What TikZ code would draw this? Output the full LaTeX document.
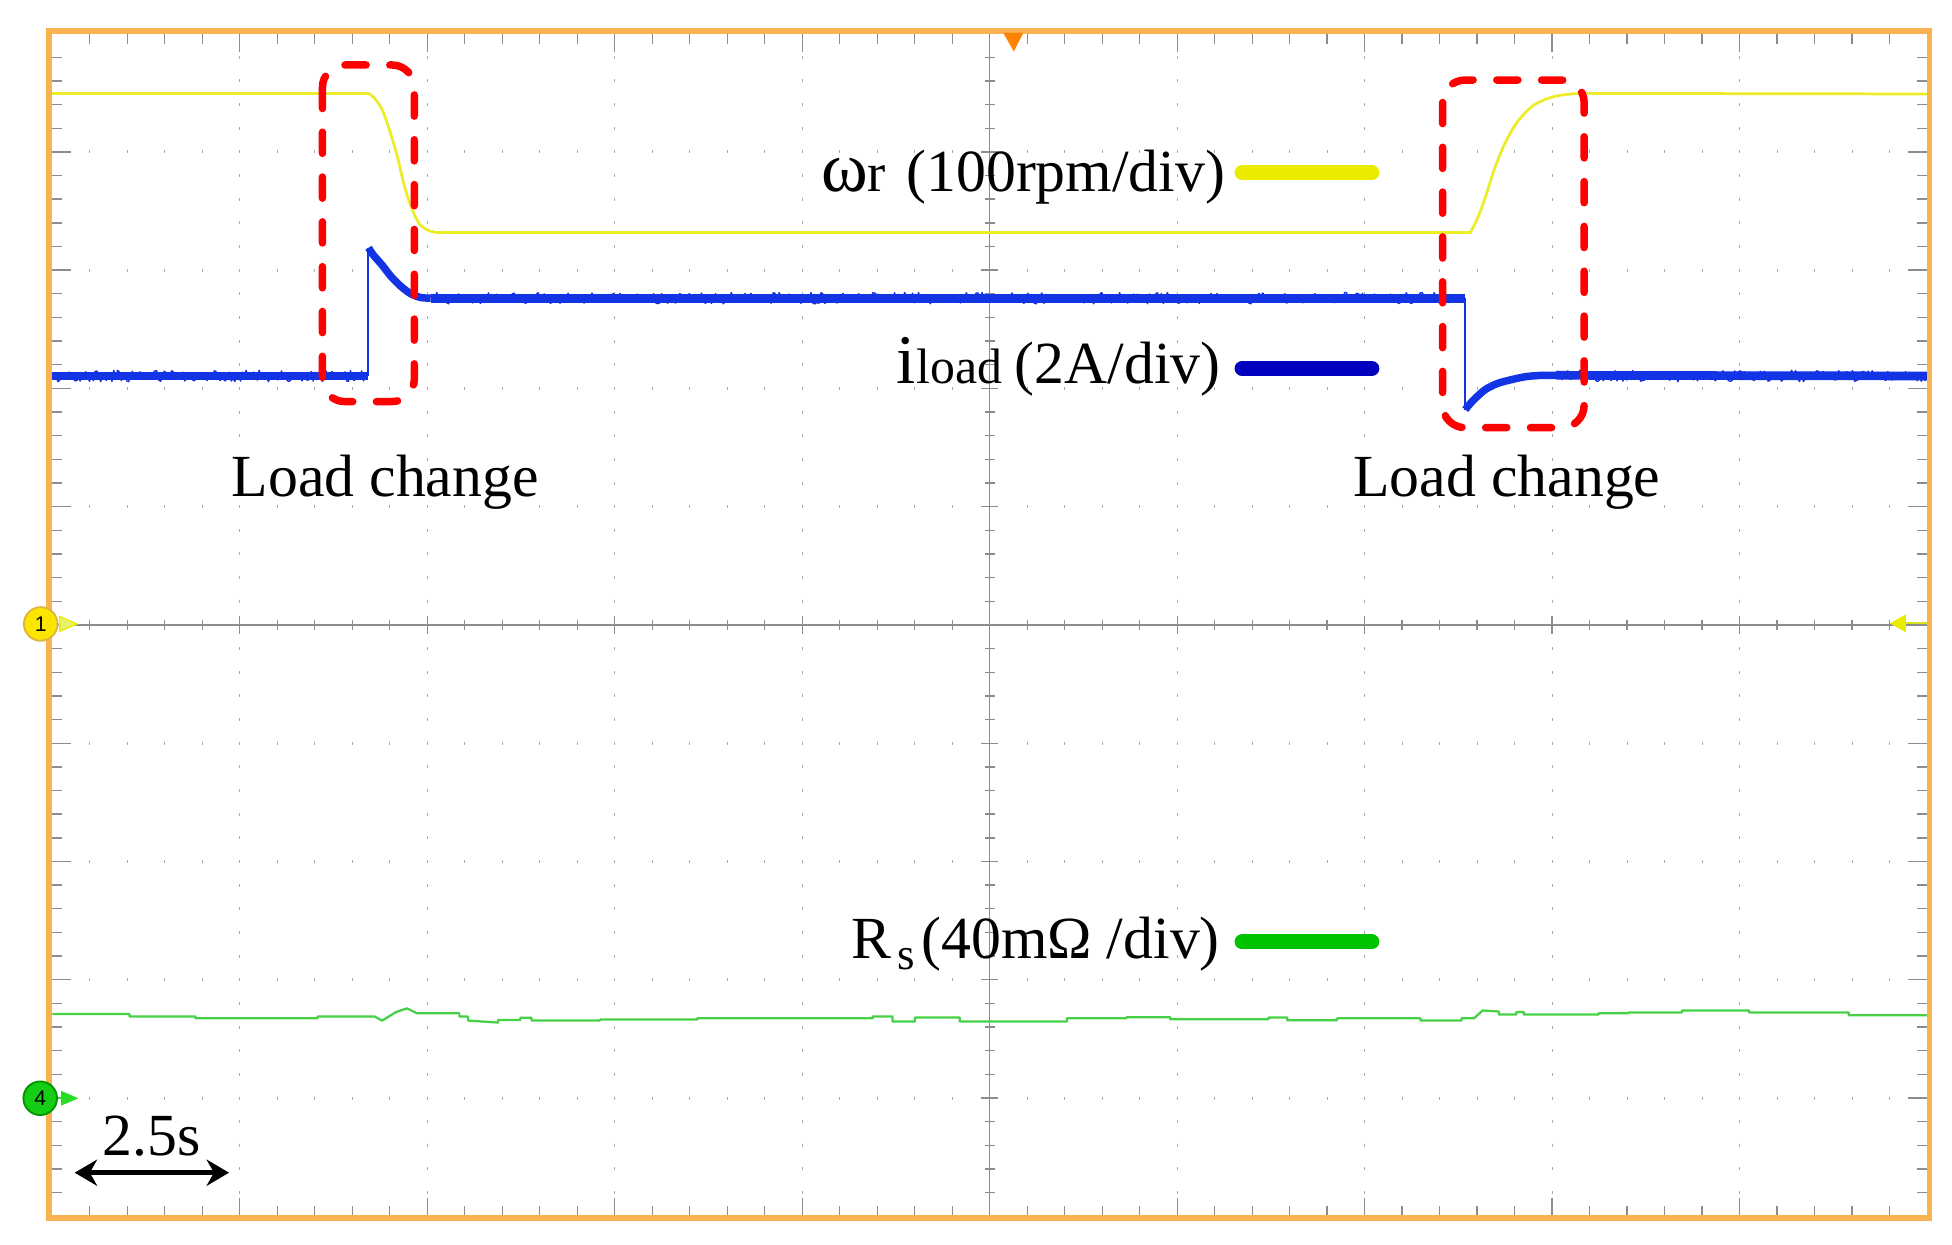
\documentclass[tikz,border=0pt]{standalone}
\usepackage{fontspec}
\setmainfont{Liberation Serif}
\newfontfamily\mkfont{Liberation Sans}
\usetikzlibrary{arrows.meta}
\definecolor{framec}{RGB}{248,178,80}
\definecolor{gridc}{RGB}{140,140,140}
\definecolor{dotc}{RGB}{170,170,170}
\definecolor{ytr}{RGB}{236,236,40}
\definecolor{btr}{RGB}{18,52,228}
\definecolor{gtr}{RGB}{70,208,70}
\definecolor{legyel}{RGB}{235,235,0}
\definecolor{legblu}{RGB}{0,0,190}
\definecolor{leggrn}{RGB}{0,195,0}
\definecolor{redbox}{RGB}{255,0,0}
\definecolor{trig}{RGB}{255,130,0}
\definecolor{mkyfill}{RGB}{250,230,0}
\definecolor{mkyedge}{RGB}{225,180,60}
\definecolor{mkyarrow}{RGB}{232,240,110}
\definecolor{mkgfill}{RGB}{20,205,20}
\definecolor{mkgedge}{RGB}{0,150,0}
\definecolor{mkgarrow}{RGB}{40,220,40}
\definecolor{lvlc}{RGB}{215,225,30}
\tikzset{
  edgetick/.style={gridc, line width=1.1pt},
  gdot/.style={dotc, line width=1pt},
  ctrline/.style={gridc, line width=1.2pt},
  legendbar/.style={line width=12pt, line cap=round},
  lbl/.style={inner sep=0pt, anchor=base west, font=\fontsize{48}{48}\selectfont},
  dbox/.style={redbox, line width=6pt, dash pattern=on 17pt off 19pt, line cap=round, rounded corners=18pt},
  mkcirc/.style={circle, minimum size=27pt, inner sep=0pt, line width=1.5pt, font=\mkfont\fontsize{17}{17}\selectfont}
}
\begin{document}
\begin{tikzpicture}[x=1pt,y=-1pt]
\useasboundingbox (0,0) rectangle (1568,1000);
\fill[white] (0,0) rectangle (1568,1000);

% ---- dotted graticule ----
\foreach \k in {1,2,3,4,6,7,8,9} {
  \pgfmathsetmacro\xx{42+\k*150.6}
  \foreach \j in {1,...,49} {
    \pgfmathsetmacro\yy{27+\j*19}
    \draw[gdot] (\xx,\yy-1.2) -- (\xx,\yy+1.2);
  }
  \pgfmathsetmacro\yk{27+\k*95}
  \foreach \j in {1,...,49} {
    \pgfmathsetmacro\xj{42+\j*30.12}
    \draw[gdot] (\xj,\yk-1.2) -- (\xj,\yk+1.2);
  }
}

% ---- centre lines with ticks ----
\draw[ctrline] (42,502) -- (1548,502);
\draw[ctrline] (795,27) -- (795,977);
\foreach \i in {1,...,49} {
  \pgfmathsetmacro\xx{42+\i*30.12}
  \pgfmathsetmacro\hh{ifthenelse(mod(\i,5)==0,7,4)}
  \draw[edgetick] (\xx,502-\hh) -- (\xx,502+\hh);
  \pgfmathsetmacro\yy{27+\i*19}
  \draw[edgetick] (795-\hh,\yy) -- (795+\hh,\yy);
}

% ---- edge ticks ----
\foreach \i in {1,...,49} {
  \pgfmathsetmacro\xx{42+\i*30.12}
  \pgfmathsetmacro\L{ifthenelse(mod(\i,5)==0,15,8)}
  \draw[edgetick] (\xx,27) -- (\xx,27+\L);
  \draw[edgetick] (\xx,977) -- (\xx,977-\L);
  \pgfmathsetmacro\yy{27+\i*19}
  \draw[edgetick] (42,\yy) -- (42+\L,\yy);
  \draw[edgetick] (1548,\yy) -- (1548-\L,\yy);
}

% ---- yellow trace (omega_r) ----
\begin{scope}[ytr, line width=2.2pt, line cap=round, line join=round]
\draw (42,75) -- (296,75);
\draw plot[smooth] coordinates {(296,75) (301,79) (307,88) (313,105) (319,125) (325,150) (331,168) (337,180) (344,185) (352,187)};
\draw (352,187) -- (1181,187);
\draw plot[smooth] coordinates {(1181,187) (1187,175) (1193,159) (1200,137) (1208,117) (1218,99) (1230,86) (1241,80) (1251,77) (1262,75.5) (1272,75)};
\draw (1272,75) -- (1548,75.5);
\end{scope}

% ---- blue trace (i_load) ----
\pgfmathsetseed{7}
\begin{scope}[btr, line cap=butt, line join=round]
\draw[line width=7pt] (42,302) -- (296,302);
\draw[line width=1.6pt] (296,302) -- (296,199);
\draw[line width=6pt] plot[smooth] coordinates {(296,199) (300,205) (307,213) (314,222) (322,230) (330,236) (338,239) (346,239.5)};
\draw[line width=7pt] (346,239.5) -- (1177,239.5);
\draw[line width=1.6pt] (1177,239.5) -- (1177,329);
\draw[line width=6pt] plot[smooth] coordinates {(1177,329) (1183,322) (1193,313) (1203,308) (1214,305) (1226,302.5) (1239,301.5) (1250,301.5)};
\draw[line width=7pt] (1250,301.5) -- (1548,302);
\draw[line width=1.1pt] plot[domain=42:295, samples=170] (\x,{302+4.6*rand});
\draw[line width=1.1pt] plot[domain=346:1176, samples=520] (\x,{239.5+4.6*rand});
\draw[line width=1.1pt] plot[domain=1250:1548, samples=190] (\x,{302+4.6*rand});
\end{scope}

% ---- green trace (R_s) ----
\draw[gtr, line width=1.8pt, line join=round] (42,814.5) -- (104,814.5) -- (104,816.6) -- (157,816.6) -- (157,818) -- (255,818) -- (255,816.6) -- (301,816.6) -- (307,819.8) -- (318,813) -- (327,810) -- (335,814) -- (369,814) -- (369,816.6) -- (376,816.6) -- (376,819.8) -- (400,821.4) -- (400,819.3) -- (418,819.3) -- (418,817.5) -- (427,817.5) -- (427,819.8) -- (482,819.8) -- (482,819) -- (560,819) -- (560,818) -- (701,818) -- (701,816.6) -- (717,816.6) -- (717,820.6) -- (735,820.6) -- (735,817.4) -- (771,817.4) -- (771,820.6) -- (857,820.6) -- (857,817.9) -- (905,817.9) -- (905,817.1) -- (940,817.1) -- (940,818.7) -- (1019,818.7) -- (1019,817.4) -- (1034,817.4) -- (1034,819.5) -- (1074,819.5) -- (1074,818) -- (1141,818) -- (1141,819.7) -- (1174,819.7) -- (1174,818) -- (1184,818) -- (1191,811.7) -- (1204,812.5) -- (1204,815) -- (1218,815) -- (1218,813) -- (1224,813) -- (1224,815) -- (1284,815) -- (1284,814) -- (1308,814) -- (1308,813.3) -- (1351,813.3) -- (1351,811.7) -- (1405,811.7) -- (1405,813.3) -- (1485,813.3) -- (1485,815.5) -- (1548,815.5);

% ---- red dashed boxes ----
\draw[dbox] (259,52.2) rectangle (332.8,322.6);
\draw[dbox] (1158.8,64.3) rectangle (1272.5,343.5);

% ---- labels ----
\node[lbl] (lc1) at (186,399) {Load change};
\node[lbl] (lc2) at (1087,399) {Load change};

\node[lbl, font=\fontsize{57}{57}\selectfont] (wsym) at (660,154) {ω};
\node[lbl, font=\fontsize{44}{44}\selectfont] (wsub) at (697,154) {r};
\node[lbl] (wunit) at (728,154) {(100rpm/div)};
\coordinate (yb1) at (997.7,138.7);
\coordinate (yb2) at (1102,138.7);
\draw[legendbar, legyel] (yb1) -- (yb2);

\node[lbl, font=\fontsize{56}{56}\selectfont] (isym) at (720,308) {i};
\node[lbl, font=\fontsize{40}{40}\selectfont] (isub) at (736,308) {load};
\node[lbl] (iunit) at (815,308) {(2A/div)};
\coordinate (bb1) at (997.7,295.9);
\coordinate (bb2) at (1102,295.9);
\draw[legendbar, legblu] (bb1) -- (bb2);

\node[lbl] (rsym) at (684,769.7) {R};
\node[lbl, font=\fontsize{36}{36}\selectfont] (rsub) at (720.5,778.5) {s};
\node[lbl] (runit) at (740,769.7) {(40mΩ /div)};
\coordinate (gb1) at (997.7,756.6);
\coordinate (gb2) at (1102,756.6);
\draw[legendbar, leggrn] (gb1) -- (gb2);

% ---- time scale ----
\node[lbl] (tlab) at (82,928) {2.5s};
\coordinate (ta) at (60,942);
\coordinate (tb) at (184,942);
\draw[{Stealth[length=18pt,width=21pt]}-{Stealth[length=18pt,width=21pt]}, line width=3.8pt] (ta) -- (tb);

% ---- frame ----
\draw[framec, line width=4.5pt] (39.5,24.8) rectangle (1550,978.5);

% ---- markers ----
\fill[trig] (806,26.5) -- (822,26.5) -- (814.4,41.4) -- cycle;

\draw[lvlc, line width=1.8pt] (1528,500.7) -- (1548,500.7);
\fill[legyel] (1518,500.7) -- (1531,493.5) -- (1531,508) -- cycle;

\draw[mkyedge, line width=1.2pt] (44,501.2) -- (49,501.2);
\filldraw[fill=mkyarrow, draw=legyel, line width=1pt] (48,495.2) -- (62,501.2) -- (48,507.2) -- cycle;
\node[mkcirc, fill=mkyfill, draw=mkyedge] (m1) at (32.7,501.2) {1};

\draw[mkgarrow, line width=1.5pt] (44,882.2) -- (50,882.2);
\fill[mkgarrow] (49,876.2) -- (63,882.2) -- (49,888.2) -- cycle;
\node[mkcirc, fill=mkgfill, draw=mkgedge] (m4) at (32.3,882.2) {4};
\end{tikzpicture}
\end{document}
